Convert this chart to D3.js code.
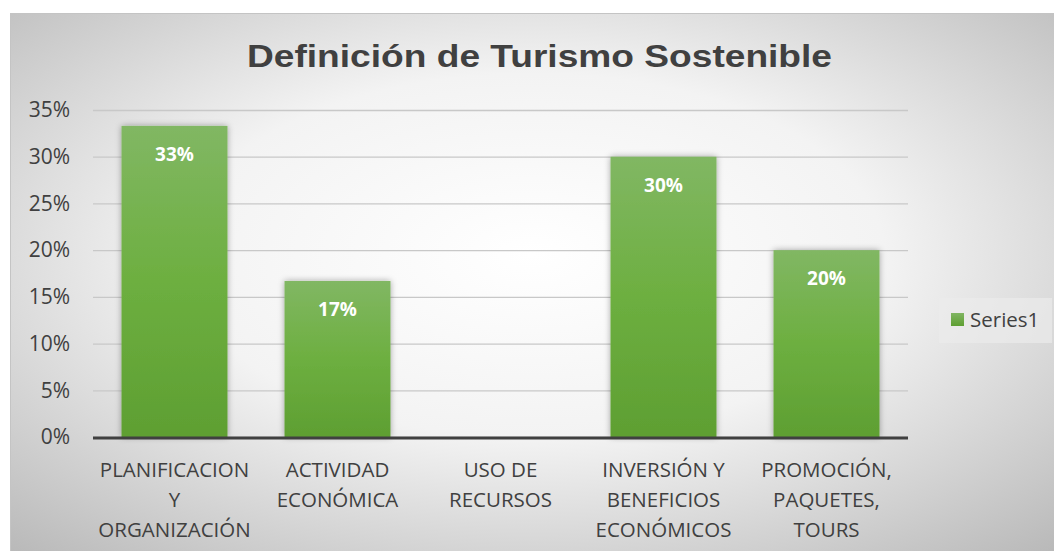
<!DOCTYPE html>
<html><head><meta charset="utf-8">
<script src="https://cdn.jsdelivr.net/npm/d3@7"></script>
<style>body{margin:0;background:#fff;}svg{display:block;}</style>
</head><body>
<script>
const categories = [["PLANIFICACION","Y","ORGANIZACIÓN"],["ACTIVIDAD","ECONÓMICA"],["USO DE","RECURSOS"],["INVERSIÓN Y","BENEFICIOS","ECONÓMICOS"],["PROMOCIÓN,","PAQUETES,","TOURS"]];
const values = [0.333, 0.167, 0, 0.30, 0.20];
const labels = ["33%","17%","","30%","20%"];
const yTicks = [0,0.05,0.10,0.15,0.20,0.25,0.30,0.35];
const seriesName = "Series1";
const title = "Definición de Turismo Sostenible";

const W=1054,H=551;
const svg=d3.select("body").append("svg").attr("width",W).attr("height",H);
const defs=svg.append("defs");
const bg=defs.append("radialGradient").attr("id","bg").attr("cx","50%").attr("cy","45%").attr("r","75%");
bg.append("stop").attr("offset","0%").attr("stop-color","#ffffff");
bg.append("stop").attr("offset","45%").attr("stop-color","#f3f3f3");
bg.append("stop").attr("offset","100%").attr("stop-color","#b8b8b8");
const bar=defs.append("linearGradient").attr("id","bar").attr("x1",0).attr("x2",0).attr("y1",0).attr("y2",1);
bar.append("stop").attr("offset","0%").attr("stop-color","#81b763");
bar.append("stop").attr("offset","50%").attr("stop-color","#6daf40");
bar.append("stop").attr("offset","100%").attr("stop-color","#5e9f32");
const lg=defs.append("linearGradient").attr("id","lg").attr("x1",0).attr("x2",0).attr("y1",0).attr("y2",1);
lg.append("stop").attr("offset","0%").attr("stop-color","#80b562");
lg.append("stop").attr("offset","100%").attr("stop-color","#5e9f32");
const sh=defs.append("filter").attr("id","sh").attr("x","-20%").attr("y","-20%").attr("width","140%").attr("height","140%");
sh.append("feDropShadow").attr("dx",0).attr("dy",0).attr("stdDeviation",3).attr("flood-color","#000").attr("flood-opacity",0.35);

svg.append("rect").attr("x",10).attr("y",13).attr("width",W-10).attr("height",H-13).attr("fill","url(#bg)");
svg.append("line").attr("x1",10).attr("x2",W).attr("y1",13.5).attr("y2",13.5).attr("stroke","#c4c4c4");
svg.append("line").attr("x1",10.5).attr("x2",10.5).attr("y1",13).attr("y2",H).attr("stroke","#c4c4c4");

svg.append("text").attr("x",539.5).attr("y",67).attr("text-anchor","middle")
  .attr("font-family","Liberation Sans, Arial, sans-serif").attr("font-weight","bold").attr("font-size",32)
  .attr("textLength",585).attr("lengthAdjust","spacingAndGlyphs")
  .attr("fill","#404040").text(title);

const x=d3.scaleBand().domain(d3.range(categories.length)).range([93,908]).paddingInner(0.35).paddingOuter(0.175);
const y=d3.scaleLinear().domain([0,0.35]).range([437,110]);
const font="Open Sans, sans-serif";

const ga=svg.append("g").attr("transform","translate(93,0)")
  .call(d3.axisLeft(y).tickValues(yTicks).tickFormat(d3.format(".0%")).tickSize(-815).tickPadding(23));
ga.select(".domain").remove();
ga.selectAll(".tick line").attr("stroke","#c8c8c8").attr("stroke-width",1.3);
ga.selectAll(".tick text").attr("font-family",font).attr("font-size",21).attr("fill","#404040");

svg.append("g").selectAll("rect").data(values).join("rect")
  .attr("x",(d,i)=>x(i)).attr("width",x.bandwidth())
  .attr("y",d=>y(d)).attr("height",d=>y(0)-y(d))
  .attr("fill","url(#bar)").attr("filter","url(#sh)");

svg.append("g").selectAll("text").data(values).join("text")
  .attr("x",(d,i)=>x(i)+x.bandwidth()/2).attr("y",d=>y(d)+35)
  .attr("text-anchor","middle").attr("font-family",font).attr("font-weight","bold").attr("font-size",19)
  .attr("fill","#fff").text((d,i)=>labels[i]);

svg.append("line").attr("x1",93).attr("x2",908).attr("y1",y(0)+1).attr("y2",y(0)+1).attr("stroke","#404040").attr("stroke-width",3);

const gx=svg.append("g").attr("transform",`translate(0,${y(0)})`)
  .call(d3.axisBottom(x).tickSize(0).tickFormat(""));
gx.select(".domain").remove();
const ct=svg.append("g").selectAll("text").data(categories).join("text")
  .attr("text-anchor","middle").attr("font-family",font).attr("font-size",20.5).attr("fill","#404040");
ct.each(function(lines,i){
  d3.select(this).selectAll("tspan").data(lines).join("tspan")
    .attr("x",x(i)+x.bandwidth()/2).attr("y",(d,j)=>477+j*30).text(d=>d);
});

const leg=svg.append("g");
leg.append("rect").attr("x",939).attr("y",298).attr("width",113).attr("height",45).attr("fill","#ebebeb").attr("opacity",0.7);
leg.append("rect").attr("x",951).attr("y",313).attr("width",13).attr("height",13).attr("fill","url(#lg)");
leg.append("text").attr("x",970).attr("y",327).attr("font-family",font).attr("font-size",20.5).attr("fill","#404040").text(seriesName);
</script>
</body></html>
